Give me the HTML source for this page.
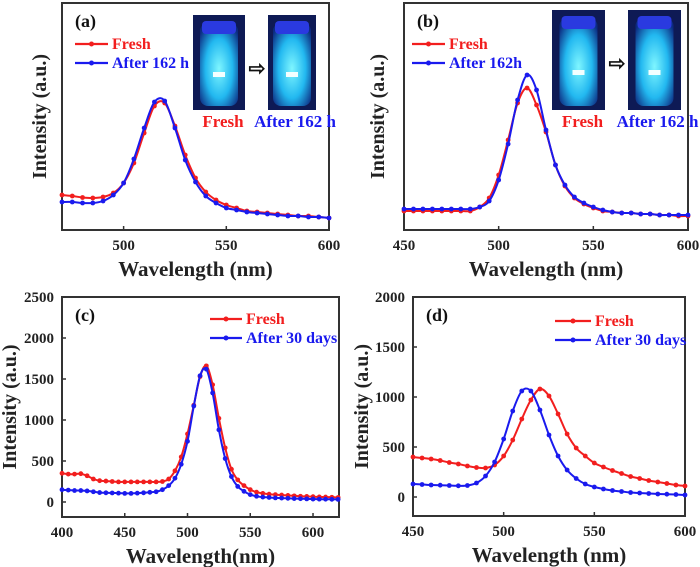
<!DOCTYPE html>
<html><head><meta charset="utf-8"><style>
html,body{margin:0;padding:0;background:#fff;}
svg{display:block;font-family:"Liberation Serif",serif;font-weight:bold;}
</style></head><body>
<svg id="fig" width="700" height="567" viewBox="0 0 700 567" xmlns="http://www.w3.org/2000/svg">
<defs>
<radialGradient id="glow" cx="50%" cy="55%" r="65%">
<stop offset="0" stop-color="#7ff6ff"/><stop offset="0.55" stop-color="#22b8f0"/><stop offset="1" stop-color="#0c2a80"/>
</radialGradient>
</defs>
</svg>
<script>
// Panel (a)
const aX = [470,475,480,485,490,495,500,505,510,515,520,525,530,535,540,545,550,555,560,565,570,575,580,585,590,595,600];
const aFresh = [35,34,32.5,32,33,37,47,67,97,124,127,104,75,52,38,30,25,22,19,18,17,16,15,14,14,13,12];
const aAfter = [28,28,27,27,29,35,47,71,102,128,129,102,70,48,34,27,22,20,18,17,16,15,14,14,13,13,12];
const aTicks = [500,550,600];
// Panel (b)
const bX = [450,455,460,465,470,475,480,485,490,495,500,505,510,515,520,525,530,535,540,545,550,555,560,565,570,575,580,585,590,595,600];
const bFresh = [19,19,19,19,19,19,19,19,23,32,55,90,127,142,125,98,65,44,32,26,22,19,18,17,17,16,16,15,15,14,14];
const bAfter = [21,21,21,21,21,21,21,21,23,29,50,86,130,155,140,100,65,45,33,27,23,20,18,17,17,16,16,15,15,15,15];
const bTicks = [450,500,550,600];
// Panel (c)
const cX = [400,405,410,415,420,425,430,435,440,445,450,455,460,465,470,475,480,485,490,495,500,505,510,515,520,525,530,535,540,545,550,555,560,565,570,575,580,585,590,595,600,605,610,615,620];
const cFresh = [350,340,340,345,320,280,260,255,250,245,245,245,245,245,245,245,250,280,380,550,830,1180,1530,1660,1430,1020,660,400,270,200,150,120,105,95,90,85,80,75,70,68,65,62,60,58,55];
const cAfter = [150,145,140,140,135,125,115,112,110,108,105,105,108,112,118,125,150,200,290,460,740,1170,1540,1620,1330,880,530,310,190,130,90,70,60,55,50,48,45,42,40,38,36,35,34,33,32];
const cXTicks = [400,450,500,550,600];
const cYTicks = [0,500,1000,1500,2000,2500];
// Panel (d)
const dX = [450,455,460,465,470,475,480,485,490,495,500,505,510,515,520,525,530,535,540,545,550,555,560,565,570,575,580,585,590,595,600];
const dFresh = [400,390,380,365,345,330,310,295,290,320,410,570,780,970,1080,1010,830,630,490,410,340,300,265,235,205,185,165,150,135,120,110];
const dAfter = [130,125,120,118,115,112,115,140,210,350,580,860,1060,1060,870,620,410,270,185,130,100,80,65,55,45,40,35,30,28,25,20];
const dXTicks = [450,500,550,600];
const dYTicks = [0,500,1000,1500,2000];

const NS = "http://www.w3.org/2000/svg";
const svg = document.getElementById('fig');
function mk(tag, attrs, parent){ const e=document.createElementNS(NS,tag); for(const k in attrs) e.setAttribute(k,attrs[k]); (parent||svg).appendChild(e); return e; }
function txt(s, attrs, parent){ const e=mk('text',attrs,parent); e.textContent=s; return e; }
function smooth(pts){
  let d='M'+pts[0][0]+','+pts[0][1];
  for(let i=0;i<pts.length-1;i++){
    const p0=pts[i-1]||pts[i], p1=pts[i], p2=pts[i+1], p3=pts[i+2]||p2;
    const c1=[p1[0]+(p2[0]-p0[0])/6, p1[1]+(p2[1]-p0[1])/6];
    const c2=[p2[0]-(p3[0]-p1[0])/6, p2[1]-(p3[1]-p1[1])/6];
    d+=` C${c1[0].toFixed(1)},${c1[1].toFixed(1)} ${c2[0].toFixed(1)},${c2[1].toFixed(1)} ${p2[0].toFixed(1)},${p2[1].toFixed(1)}`;
  }
  return d;
}

function panel(p){
  const g = mk('g',{});
  
  
  const sx = v => p.x0 + (v-p.xmin)/(p.xmax-p.xmin)*(p.x1-p.x0);
  const sy = v => p.y1 - (v-p.ymin)/(p.ymax-p.ymin)*(p.y1-p.y0);
  const frame = mk('rect',{x:p.x0,y:p.y0,width:p.x1-p.x0,height:p.y1-p.y0,fill:'none',stroke:'#333','stroke-width':2},g);
  
  
  p.xticks.forEach(t=>{
    const X=sx(t);
    mk('line',{x1:X,x2:X,y1:p.y1,y2:p.y1-4,stroke:'#333','stroke-width':1.5},g);
    const l=txt(String(t),{x:X,y:p.y1+20,'text-anchor':'middle','font-size':15,fill:'#222'},g);
    
    
  });
  (p.yticks||[]).forEach(t=>{
    const Y=sy(t);
    mk('line',{x1:p.x0,x2:p.x0+4,y1:Y,y2:Y,stroke:'#333','stroke-width':1.5},g);
    const l=txt(String(t),{x:p.x0-8,y:Y+5,'text-anchor':'end','font-size':15,fill:'#222'},g);
    
    
  });
  const xt=txt(p.xtitle,{x:(p.x0+p.x1)/2,y:p.y1+46,'text-anchor':'middle','font-size':21,fill:'#222'},g);
  
  
  const yt=txt('Intensity (a.u.)',{x:0,y:0,'text-anchor':'middle','font-size':20,fill:'#222',transform:`translate(${p.ytx},${(p.y0+p.y1)/2}) rotate(-90)`},g);
  
  
  const pl=txt('('+p.id+')',{x:p.x0+13,y:p.y0+24,'font-size':18,fill:'#111'},g);
  
  
  const series=[[p.fresh,'#f21e1e','fresh'],[p.after,'#1a1aee','after']];
  series.forEach(([vals,col,nm])=>{
    const pts=p.xs.map((x,i)=>[sx(x),sy(vals[i])]);
    const ln=mk('path',{d:smooth(pts),fill:'none',stroke:col,'stroke-width':2},g);
    
    
    p.xs.forEach((x,i)=>{
      const c=mk('circle',{cx:sx(x),cy:sy(vals[i]),r:2.4,fill:col},g);
      
      
    });
  });
  p.legend.forEach((lg,i)=>{
    const y=p.ly+i*19, col=i?'#1a1aee':'#f21e1e';
    const le=mk('g',{},g);
    
    
    mk('line',{x1:p.lx,x2:p.lx+p.lw,y1:y,y2:y,stroke:col,'stroke-width':2.2},le);
    mk('circle',{cx:p.lx+p.lw/2,cy:y,r:2.5,fill:col},le);
    txt(lg,{x:p.lx+p.lw+4,y:y+5,'font-size':16,fill:col},le);
  });
  (p.photos||[]).forEach((ph,i)=>{
    const pg=mk('g',{},g);
    
    
    mk('rect',{x:ph[0],y:ph[1],width:ph[2],height:ph[3],fill:'#0e1a55'},pg);
    const cx=ph[0]+ph[2]/2;
    mk('rect',{x:cx-19,y:ph[1]+8,width:38,height:ph[3]-12,rx:8,fill:'url(#glow)'},pg);
    mk('rect',{x:cx-17,y:ph[1]+6,width:34,height:13,rx:4,fill:'#2a3ae0'},pg);
    mk('rect',{x:cx-6,y:ph[1]+ph[3]*0.6,width:12,height:5,fill:'#f4ffff'},pg);
    txt(i?p.photoLabel:'Fresh',{x:cx+(i?3:4),y:ph[1]+ph[3]+17,'text-anchor':'middle','font-size':17,fill:i?'#1a1aee':'#f21e1e'},pg);
  });
  if(p.photos){
    const ar=txt('⇨',{x:p.arrowX,y:p.photos[0][1]+60,'text-anchor':'middle','font-size':20,fill:'#111'},g);
    
    
  }
}

panel({id:'a',x0:62,x1:329,y0:3,y1:230,xmin:470,xmax:600,ymin:0,ymax:227,xs:aX,fresh:aFresh,after:aAfter,xticks:aTicks,
  xtitle:'Wavelength (nm)',ytx:46,lx:75,lw:33,ly:44,legend:['Fresh','After 162 h'],
  photos:[[193,15,52,95],[268,15,48,95]],photoLabel:'After 162 h',arrowX:257});
panel({id:'b',x0:404,x1:688,y0:3,y1:230,xmin:450,xmax:600,ymin:0,ymax:227,xs:bX,fresh:bFresh,after:bAfter,xticks:bTicks,
  xtitle:'Wavelength (nm)',ytx:384,lx:412,lw:33,ly:44,legend:['Fresh','After 162h'],
  photos:[[552,10,53,100],[628,10,53,100]],photoLabel:'After 162 h',arrowX:617});
panel({id:'c',x0:62,x1:339,y0:297,y1:517,xmin:400,xmax:620.7,ymin:-183,ymax:2500,xs:cX,fresh:cFresh,after:cAfter,xticks:cXTicks,yticks:cYTicks,
  xtitle:'Wavelength(nm)',ytx:16,lx:210,lw:32,ly:319,legend:['Fresh','After 30 days']});
panel({id:'d',x0:413,x1:685,y0:297,y1:516,xmin:450,xmax:600,ymin:-190,ymax:2000,xs:dX,fresh:dFresh,after:dAfter,xticks:dXTicks,yticks:dYTicks,
  xtitle:'Wavelength (nm)',ytx:368,lx:555,lw:36,ly:321,legend:['Fresh','After 30 days']});
</script>
</body></html>
